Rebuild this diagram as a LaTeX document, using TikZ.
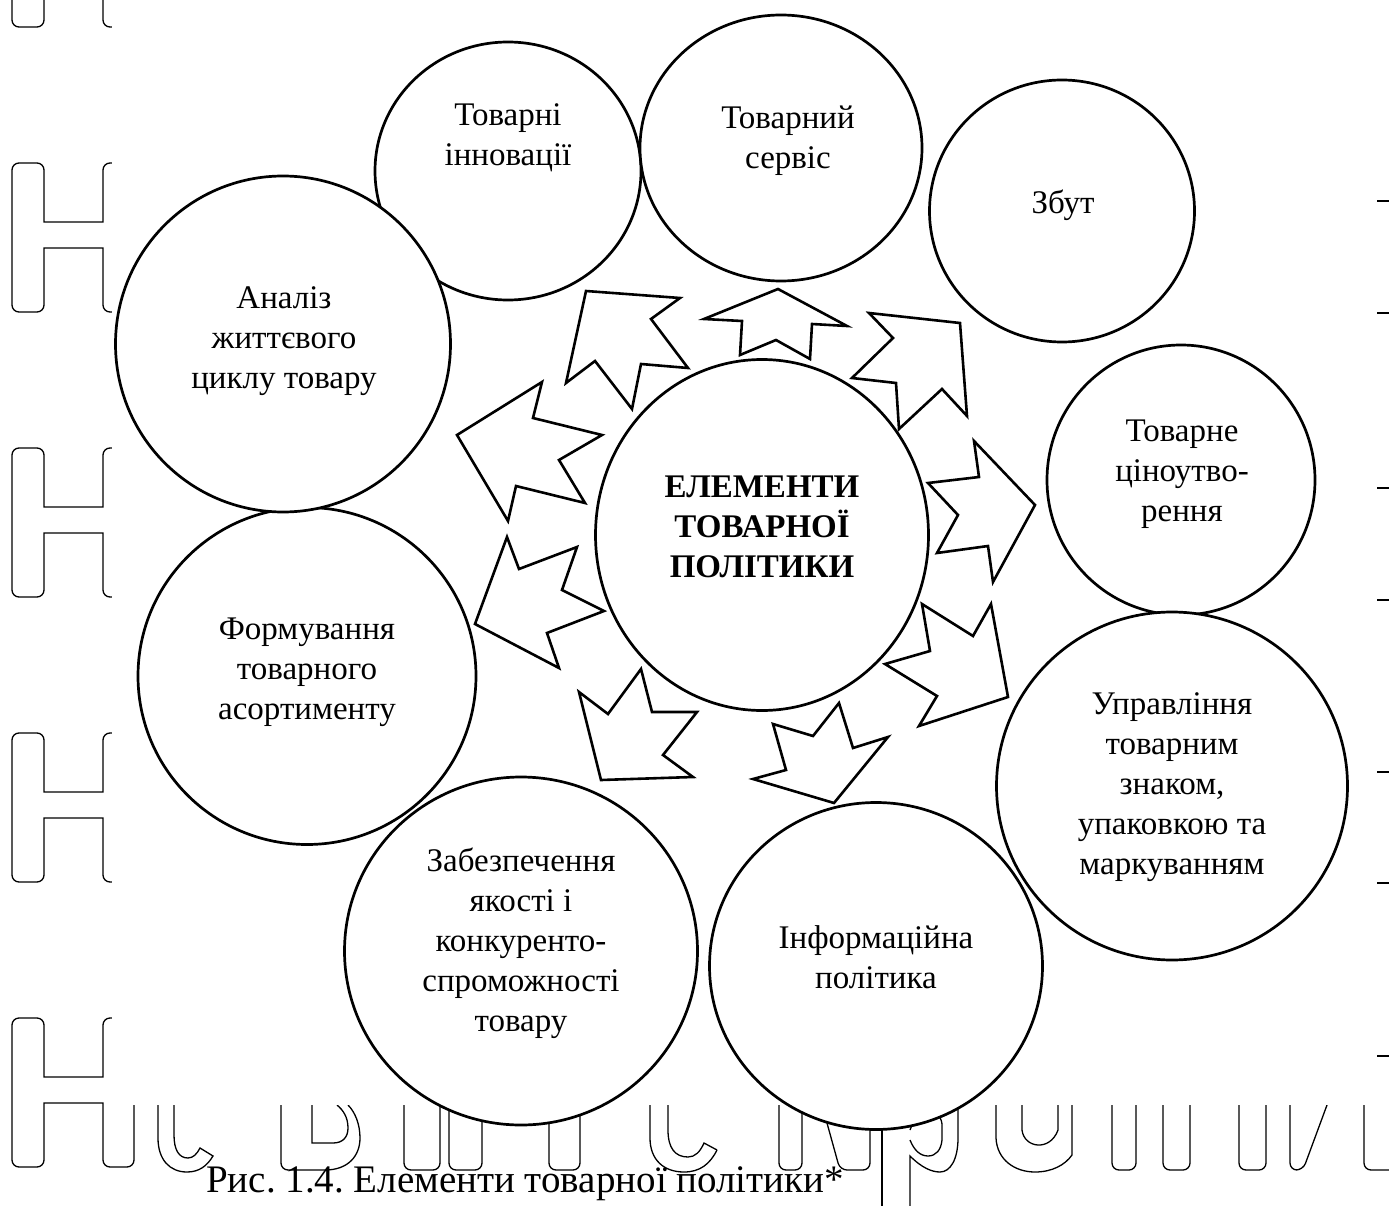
\documentclass[tikz,border=0pt]{standalone}
\usepackage{fontspec}
\setmainfont{Liberation Serif}
\frenchspacing
\usetikzlibrary{shapes.geometric}
\newcommand\wmH[1]{\draw[wm] (12,#1+20) [rounded corners=7pt] -- (12,#1) -- (44,#1) [sharp corners] -- (44,#1+59) -- (103,#1+59) [rounded corners=7pt] -- (103,#1) -- (134,#1) -- (134,#1+149) -- (103,#1+149) [sharp corners] -- (103,#1+85) -- (44,#1+85) [rounded corners=7pt] -- (44,#1+149) -- (12,#1+149) -- cycle;}
\newcommand\wmU[2]{\draw[wm] (#1,1105) [rounded corners=7pt] -- (#1,1170) -- (#2,1170) -- (#2,1105);}
\begin{document}
\begin{tikzpicture}[x=1pt,y=-1pt,
  ring/.style={draw, line width=2.7pt, ellipse, fill=white, inner sep=0pt},
  blk/.style={draw, line width=2.6pt, line join=miter, fill=white},
  lbl/.style={align=center, font=\fontsize{33}{40}\selectfont, inner sep=0pt,
    execute at begin node=\strut, execute at end node=\strut},
  ctr/.style={lbl, font=\fontsize{33}{40}\selectfont\bfseries},
  wm/.style={line width=1.3pt}]
\useasboundingbox (0,0) rectangle (1389,1206);
\fill[white] (0,0) rectangle (1389,1206);
% ---- background watermark (outlined letters) ----
\foreach \t in {-122,163,448,733,1018} {\wmH{\t}}
\foreach \yy in {201,313,488,600,772,883,1056} {\draw[wm] (1377,\yy) -- (1389,\yy);}
\draw[wm] (158,1105) -- (158,1138) .. controls (158,1160) and (170,1172) .. (187,1172) .. controls (199,1172) and (207,1166) .. (213,1156) -- (200,1148) .. controls (197,1154) and (193,1158) .. (188,1158) .. controls (179,1158) and (174,1150) .. (174,1135) -- (174,1105);
\draw[wm] (281,1105) [rounded corners=7pt] -- (281,1170) [sharp corners] -- (325,1170) .. controls (348,1170) and (360,1156) .. (360,1138) .. controls (360,1124) and (355,1112) .. (348,1105);
\draw[wm] (312,1105) -- (312,1143) -- (333,1143) .. controls (343,1143) and (348,1137) .. (348,1128) .. controls (348,1117) and (343,1110) .. (337,1105);
\wmU{404}{440}
\wmU{449}{482}
\wmU{549}{580}
\draw[wm] (650,1105) -- (650,1138) .. controls (650,1160) and (664,1172) .. (684,1172) .. controls (700,1172) and (710,1164) .. (717,1150);
\draw[wm] (717,1150) -- (704,1143) .. controls (700,1152) and (695,1157) .. (688,1157) .. controls (675,1157) and (668,1148) .. (668,1130) -- (668,1105);
\wmU{779}{802}
\draw[wm] (822,1105) [rounded corners=7pt] -- (840,1170) -- (870,1170) -- (870,1105);
\draw[wm] (882,1105) -- (882,1206);
\draw[wm] (910,1206) -- (910,1156) .. controls (922,1168) and (932,1172) .. (940,1172) .. controls (950,1172) and (958,1160) .. (958,1138) -- (958,1105);
\draw[wm] (910,1130) .. controls (914,1118) and (922,1112) .. (930,1112) .. controls (936,1112) and (941,1116) .. (942,1124) -- (942,1140) .. controls (941,1150) and (936,1156) .. (928,1156) .. controls (920,1156) and (914,1150) .. (910,1140);
\draw[wm] (996,1105) -- (996,1138) .. controls (997,1160) and (1015,1172) .. (1035,1172) .. controls (1052,1172) and (1065,1165) .. (1072,1155) -- (1072,1105);
\draw[wm] (1022,1105) -- (1022,1130) .. controls (1024,1148) and (1050,1152) .. (1058,1130) -- (1058,1105);
\wmU{1112}{1136}
\wmU{1163}{1190}
\wmU{1239}{1266}
\draw[wm] (1290,1105) [rounded corners=7pt] -- (1290,1170) -- (1303,1170) [sharp corners] -- (1327,1105);
\draw[wm] (1364,1105) [rounded corners=7pt] -- (1364,1170) -- (1389,1170);
% cover
\fill[white] (112,0) rectangle (1377,1105);
% ---- diagram ----
\node[ring, minimum width=266pt, minimum height=258pt] (inn) at (508,171) {};
\node[ring, minimum width=282pt, minimum height=266pt] (serv) at (781,148) {};
\node[ring, minimum width=265pt, minimum height=262pt] (zbut) at (1062,211) {};
\node[ring, minimum width=268pt, minimum height=270pt] (price) at (1181,480) {};
\node[ring, minimum width=351pt, minimum height=348pt] (brand) at (1172,786) {};
\node[ring, minimum width=333pt, minimum height=327pt] (info) at (876,966) {};
\node[ring, minimum width=353pt, minimum height=348pt] (qual) at (521,951) {};
\node[ring, minimum width=338pt, minimum height=337pt] (assort) at (307,676) {};
\node[ring, minimum width=335pt, minimum height=336pt] (life) at (283,344) {};
\node[ring, minimum width=333pt, minimum height=351pt] (centre) at (762,535) {};

\node[lbl] (tinn) at (508,141) {Товарні\\інновації};
\node[lbl] (tserv) at (788,143) {Товарний\\сервіс};
\node[lbl] (tzbut) at (1063,206) {Збут};
\node[lbl] (tprice) at (1182,477) {Товарне\\ціноутво-\\рення};
\node[lbl] (tbrand) at (1172,790) {Управління\\товарним\\знаком,\\упаковкою та\\маркуванням};
\node[lbl] (tinfo) at (876,963) {Інформаційна\\політика};
\node[lbl] (tqual) at (521,946) {Забезпечення\\якості і\\конкуренто-\\спроможності\\товару};
\node[lbl] (tassort) at (307,675) {Формування\\товарного\\асортименту};
\node[lbl] (tlife) at (284,344) {Аналіз\\життєвого\\циклу товару};
\node[ctr] (tcentre) at (762,533) {ЕЛЕМЕНТИ\\ТОВАРНОЇ\\ПОЛІТИКИ};

% block arrows from the centre towards each element
\draw[blk] (586,291) -- (680,298) -- (651,319) -- (688,368) -- (641,364) -- (632,409) -- (595,361) -- (566,383) -- cycle;
\draw[blk] (778,289) -- (847,326) -- (812,324) -- (810,359) -- (776,340) -- (740,355) -- (742,321) -- (704,319) -- cycle;
\draw[blk] (869,313) -- (960,323) -- (967,416) -- (942,389) -- (899,429) -- (896,383) -- (852,378) -- (893,338) -- cycle;
\draw[blk] (974,441) -- (1035,505) -- (993,582) -- (988,546) -- (937,553) -- (958,515) -- (928,483) -- (979,477) -- cycle;
\draw[blk] (922,604) -- (973,636) -- (991,604) -- (1008,697) -- (919,726) -- (937,696) -- (885,664) -- (930,651) -- cycle;
\draw[blk] (839,703) -- (853,748) -- (888,737) -- (834,803) -- (753,779) -- (786,770) -- (773,724) -- (813,736) -- cycle;
\draw[blk] (641,669) -- (652,712) -- (697,712) -- (663,755) -- (693,777) -- (601,780) -- (579,692) -- (608,714) -- cycle;
\draw[blk] (507,537) -- (519,569) -- (577,547) -- (562,590) -- (604,611) -- (547,633) -- (559,668) -- (475,624) -- cycle;
\draw[blk] (542,382) -- (533,418) -- (602,435) -- (559,460) -- (585,503) -- (516,486) -- (508,521) -- (457,435) -- cycle;

\node[anchor=base west, inner sep=0pt, font=\fontsize{39}{47}\selectfont] (cap) at (206,1192) {Рис. 1.4. Елементи товарної політики*};
\end{tikzpicture}
\end{document}
